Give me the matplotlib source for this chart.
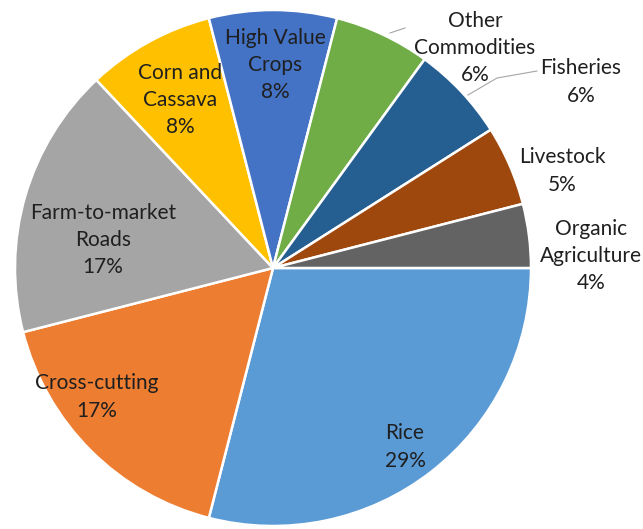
import matplotlib
matplotlib.use("Agg")
import matplotlib.pyplot as plt

categories = ["Rice", "Cross-cutting", "Farm-to-market\nRoads", "Corn and\nCassava",
              "High Value\nCrops", "Other\nCommodities", "Fisheries", "Livestock",
              "Organic\nAgriculture"]
shares = [29, 17, 17, 8, 8, 6, 6, 5, 4]
colors = ["#5B9BD5", "#ED7D31", "#A5A5A5", "#FFC000", "#4472C4",
          "#70AD47", "#255E91", "#9E480E", "#636363"]

W, H = 643, 529
fig = plt.figure(figsize=(W / 100, H / 100), dpi=100)
ax = fig.add_axes([0, 0, 1, 1])

def py(y):
    # image rows run downward, axes y runs up
    return H - y

ax.pie(shares, colors=colors, startangle=0, counterclock=False,
       center=(273, py(268)), radius=258,
       wedgeprops=dict(edgecolor="white", linewidth=1.8))
ax.set_xlim(0, W)
ax.set_ylim(0, H)
ax.set_aspect("equal")
ax.axis("off")

# label centres in pixel coordinates
label_pos = [(405, 447), (97, 397), (103, 240), (180, 100), (275, 65),
             (475, 48), (581, 82), (562, 171), (591, 256)]

for name, val, (x, y) in zip(categories, shares, label_pos):
    ax.text(x, py(y), f"{name}\n{val}%", ha="center", va="center",
            fontsize=15, family="Lato", color="#1F1F1F", linespacing=1.45)

# leader lines for the outside labels
ax.plot([390, 405], [py(33), py(28)], color="#A6A6A6", lw=0.8)
ax.plot([468, 497, 537], [py(95), py(78), py(71)], color="#A6A6A6", lw=0.8)

fig.savefig("out.png", dpi=100)
